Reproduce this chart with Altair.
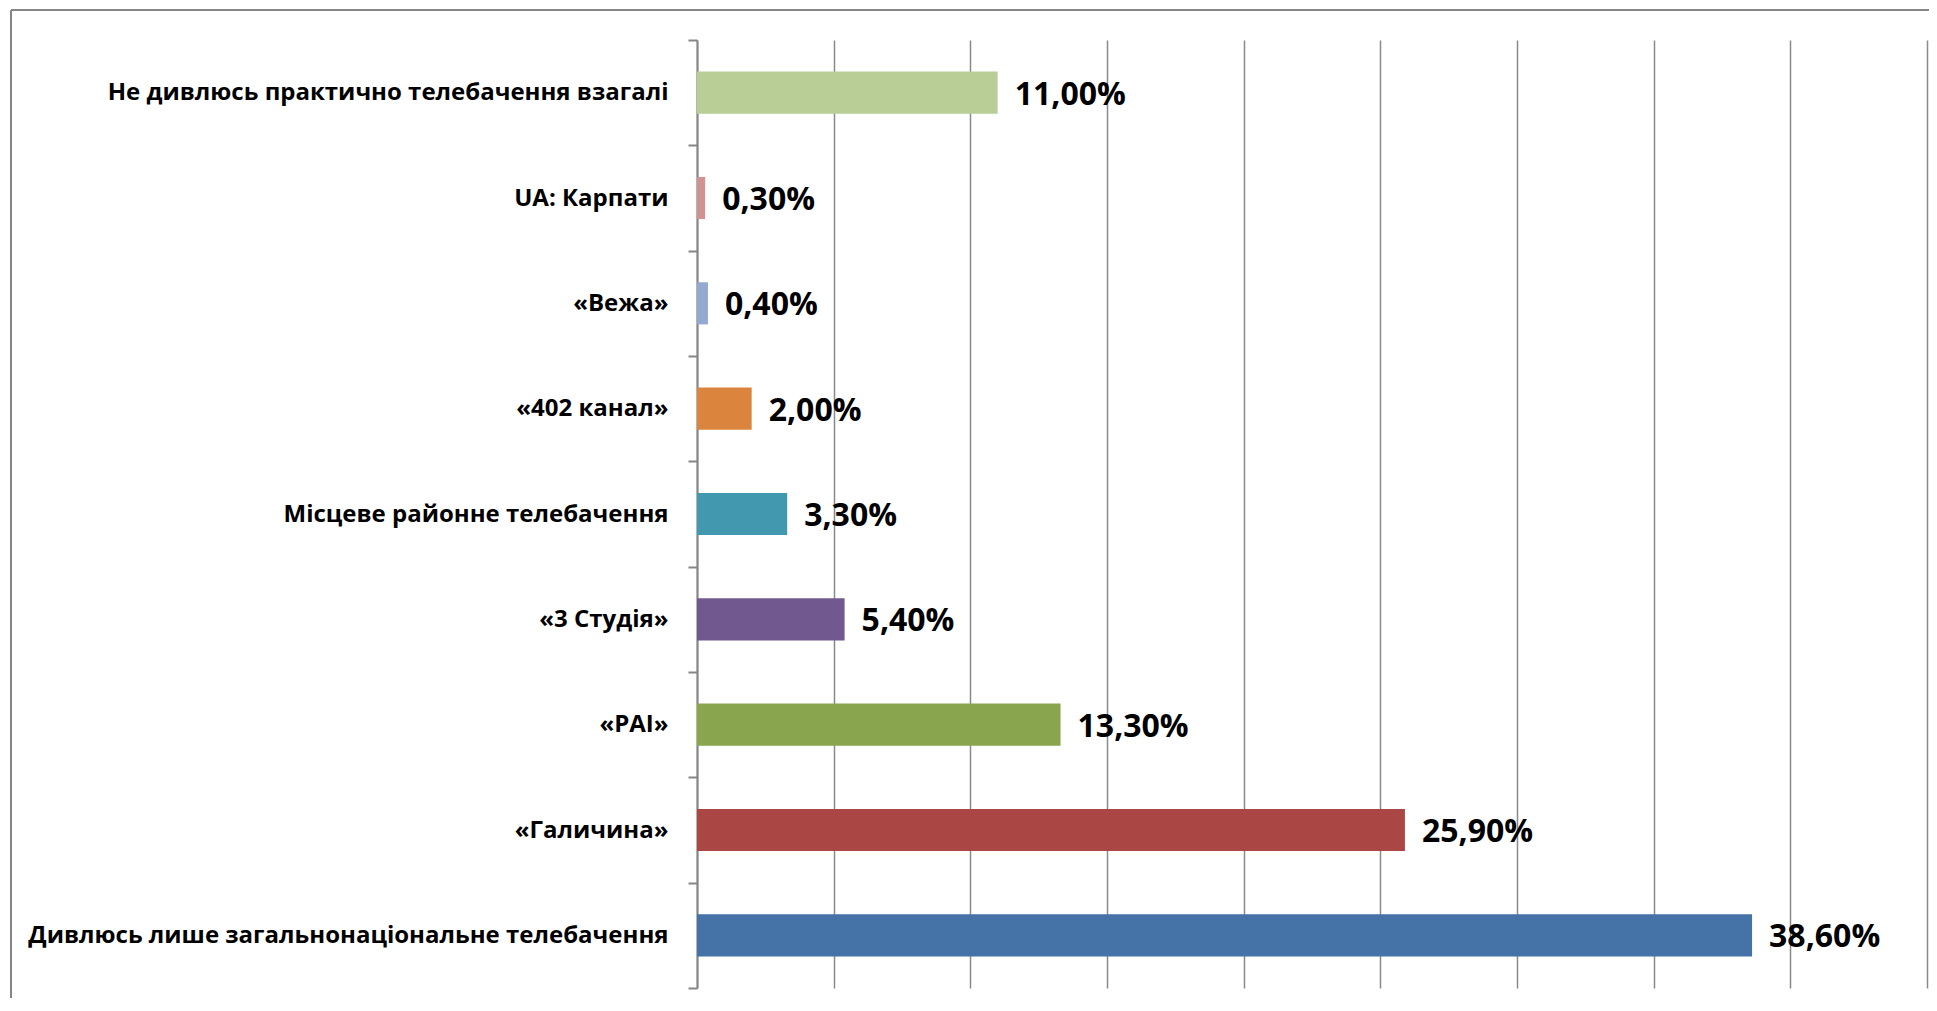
import altair as alt
import pandas as pd

# ---- data (top to bottom as in the reference) ----
categories = [
    "Не дивлюсь практично телебачення взагалі",
    "UA: Карпати",
    "«Вежа»",
    "«402 канал»",
    "Місцеве районне телебачення",
    "«3 Студія»",
    "«РАІ»",
    "«Галичина»",
    "Дивлюсь лише загальнонаціональне телебачення",
]
values = [11.0, 0.3, 0.4, 2.0, 3.3, 5.4, 13.3, 25.9, 38.6]
x_ticks = [0, 5, 10, 15, 20, 25, 30, 35, 40, 45]

# ---- style ----
palette = ["#B9CD96", "#D19392", "#93A9CF", "#DB843D", "#4198AF",
           "#71588F", "#89A54E", "#AA4643", "#4572A7"]
GRAY = "#868686"
W, H = 1230, 948
PAD = {"left": 689, "top": 32, "right": 2, "bottom": 10}

df = pd.DataFrame({"category": categories, "value": values})
one = pd.DataFrame({"k": [0]})

y_enc = alt.Y(
    "category:N",
    sort=categories,
    scale=alt.Scale(paddingInner=0, paddingOuter=0),
    axis=alt.Axis(
        title=None,
        tickBand="extent",
        tickSize=9,
        tickColor=GRAY,
        tickWidth=2,
        domainColor=GRAY,
        domainWidth=2,
        labelFont="Open Sans",
        labelFontWeight="bold",
        labelFontSize=24,
        labelColor="#000000",
        labelPadding=20,
        labelLimit=0,
    ),
)
x_enc = alt.X(
    "value:Q",
    scale=alt.Scale(domain=[0, 45], nice=False, zero=True),
    axis=alt.Axis(
        title=None,
        values=x_ticks,
        labels=False,
        ticks=False,
        domain=False,
        grid=True,
        gridColor="#8a8a8a",
        gridWidth=1.5,
    ),
)

bars = alt.Chart(df).mark_bar(height={"band": 0.4}).encode(
    x=x_enc,
    y=y_enc,
    color=alt.Color("category:N",
                    scale=alt.Scale(domain=categories, range=palette),
                    legend=None),
)

text = alt.Chart(df).transform_calculate(
    label="replace(format(datum.value, '.2f'), '.', ',') + '%'"
).mark_text(
    align="left", baseline="middle", dx=17, dy=2,
    font="Open Sans", fontWeight="bold", fontSize=32, color="#000000",
).encode(
    x=alt.X("value:Q"),
    y=alt.Y("category:N", sort=categories),
    text="label:N",
)

frame_left = alt.Chart(one).mark_rule(color=GRAY, strokeWidth=2).encode(
    x=alt.value(-686), y=alt.value(-30), y2=alt.value(H + 20)
)
frame_top = alt.Chart(one).mark_rule(color=GRAY, strokeWidth=2).encode(
    x=alt.value(-686), x2=alt.value(W + 5), y=alt.value(-30)
)

chart = alt.layer(bars, text, frame_left, frame_top).properties(
    width=W,
    height=H,
    autosize=alt.AutoSizeParams(type="none"),
    padding=PAD,
    background="white",
).configure_view(strokeWidth=0)

chart.save("out.html", embed_options={"renderer": "svg", "actions": False})
